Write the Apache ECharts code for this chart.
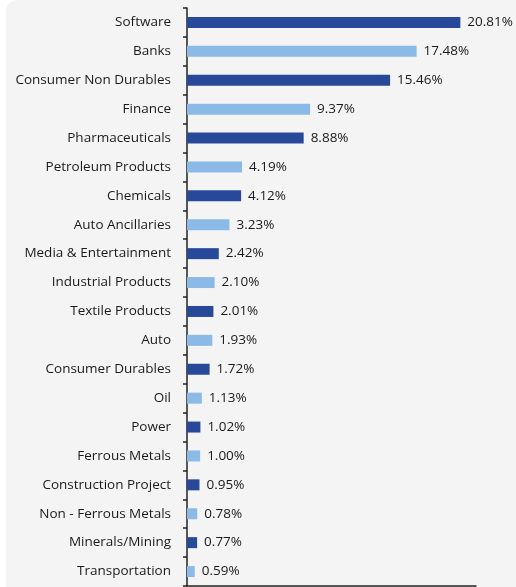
<!DOCTYPE html>
<html>
<head>
<meta charset="utf-8">
<style>
  html, body { margin: 0; padding: 0; background: #ffffff; }
  #chart { width: 516px; height: 587px; }
</style>
<script src="https://cdn.jsdelivr.net/npm/echarts@6/dist/echarts.min.js"></script>
</head>
<body>
<div id="chart"></div>
<script>
// Sector allocation (% of net assets)
const sectors = [
  'Software', 'Banks', 'Consumer Non Durables', 'Finance', 'Pharmaceuticals',
  'Petroleum Products', 'Chemicals', 'Auto Ancillaries', 'Media & Entertainment',
  'Industrial Products', 'Textile Products', 'Auto', 'Consumer Durables', 'Oil',
  'Power', 'Ferrous Metals', 'Construction Project', 'Non - Ferrous Metals',
  'Minerals/Mining', 'Transportation'
];
const weights = [
  20.81, 17.48, 15.46, 9.37, 8.88,
  4.19, 4.12, 3.23, 2.42,
  2.10, 2.01, 1.93, 1.72, 1.13,
  1.02, 1.00, 0.95, 0.78,
  0.77, 0.59
];
const darkBlue = '#28489a';
const lightBlue = '#8cbae6';
const fontFamily = '"Open Sans", Lato, sans-serif';

const chart = echarts.init(document.getElementById('chart'));
chart.setOption({
  animation: false,
  graphic: [{
    type: 'rect',
    z: -10,
    shape: { x: 6, y: 0, width: 520, height: 600, r: [12, 0, 0, 0] },
    style: { fill: '#f4f4f4' }
  }],
  grid: { left: 187, top: 8, right: 40, bottom: 1, containLabel: false },
  xAxis: {
    type: 'value',
    min: 0,
    max: 22,
    splitLine: { show: false },
    axisLabel: { show: false },
    axisTick: { show: false },
    axisLine: { show: true, onZero: false, lineStyle: { color: '#222', width: 1.5 } }
  },
  yAxis: {
    type: 'category',
    inverse: true,
    data: sectors,
    axisLine: { show: true, lineStyle: { color: '#222', width: 1.5 } },
    axisTick: { show: true, length: 4, inside: false, lineStyle: { color: '#222', width: 1.5 } },
    axisLabel: { color: '#1a1a1a', fontSize: 13.5, fontFamily: fontFamily, margin: 16 }
  },
  series: [{
    type: 'bar',
    data: weights.map((v, i) => ({
      value: v,
      itemStyle: { color: i % 2 === 0 ? darkBlue : lightBlue }
    })),
    barWidth: 11,
    label: {
      show: true,
      position: 'right',
      distance: 7,
      color: '#1a1a1a',
      fontSize: 13.5,
      fontFamily: fontFamily,
      formatter: p => p.value.toFixed(2) + '%'
    }
  }]
});
</script>
</body>
</html>
